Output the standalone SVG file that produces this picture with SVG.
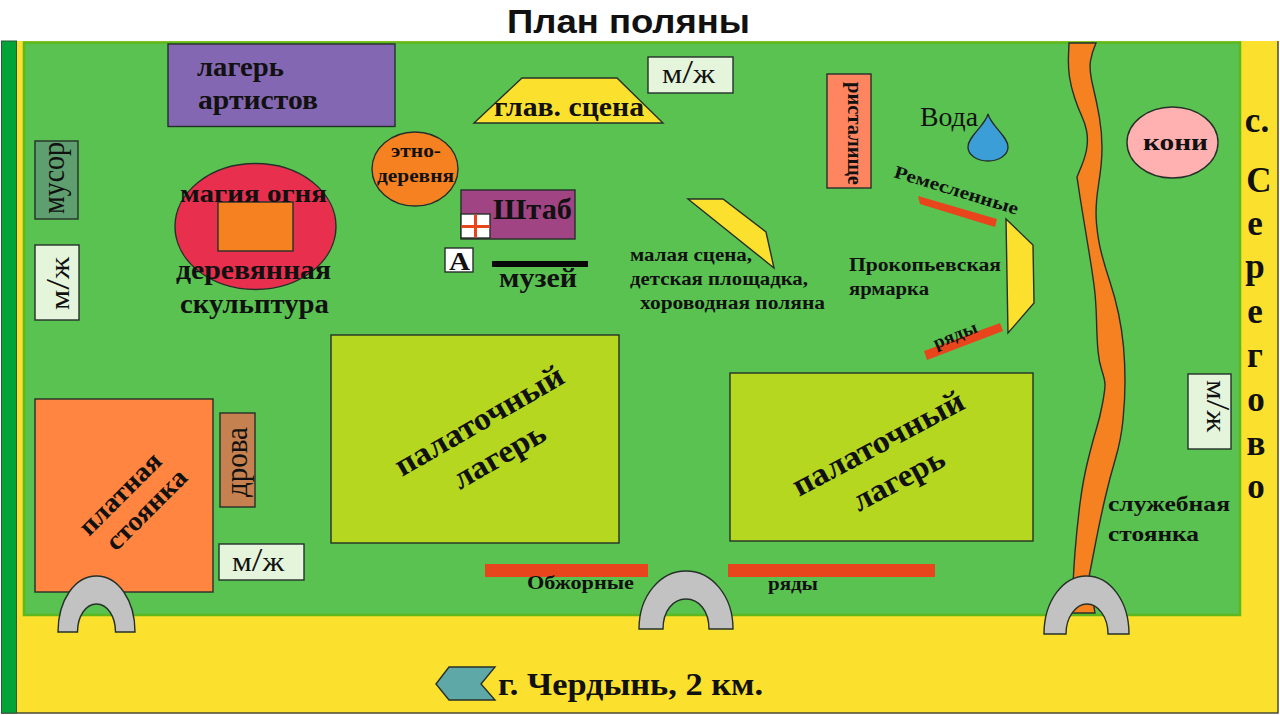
<svg xmlns="http://www.w3.org/2000/svg" width="1280" height="715" viewBox="0 0 1280 715">
<style>
text{font-family:"Liberation Serif","Times New Roman",serif;fill:#111;font-weight:bold}
.n{font-weight:normal}
.s{stroke:#26302a;stroke-width:1.4}
.title{font-family:"Liberation Sans",Arial,sans-serif;font-size:34px;fill:#111}
.lot{fill:#b5d720}
.mj{fill:#e5f5dc}
.bar{fill:#e8451c}
.arch{fill:#c2c2c2}
.yel{fill:#fbe12d}
.sv{font-size:35px;text-anchor:middle}
.sl{font-size:33px}
</style>
<rect width="1280" height="715" fill="#fff"/>
<text class="title" x="507" y="33" textLength="243" lengthAdjust="spacingAndGlyphs">План поляны</text>
<g id="ground">
<rect x="1" y="41" width="1277" height="672" class="yel"/>
<path d="M1278,41 V713 H1" fill="none" stroke="#4a4a3a" stroke-width="1.500"/>
<rect x="1.500" y="41" width="15" height="672" fill="#03a437" stroke="#2c5a3a" stroke-width="1"/>
<rect x="24" y="42.500" width="1216" height="572.500" fill="#5ac251" stroke="#5cb81c" stroke-width="2.500"/>
</g>
<g id="river">
<path class="s" fill="#f68120" d="M1069,43 L1068.500,55 Q1068,67 1069.500,77 Q1071,87 1074.500,97.500 Q1078,108 1081.500,115.500 Q1085,123 1086.500,130.500 Q1088,138 1087,146.500 Q1086,155 1081.500,166 L1077,177 L1080,197 L1083.500,218.500 Q1087,240 1089.500,255 Q1092,270 1094,285 Q1096,300 1096.500,320 Q1097,340 1098,351 Q1099,362 1102,371 Q1105,380 1105,385 Q1105,390 1102.500,403.500 Q1100,417 1096.500,428.500 Q1093,440 1088,460 Q1083,480 1080,503.500 Q1077,527 1075,552 Q1073,577 1072,613 L1095,613 L1089,577 L1094.500,548.500 Q1100,520 1105,498.500 Q1110,477 1115.500,458.500 Q1121,440 1123,420 Q1125,400 1125,381.500 Q1125,363 1123.500,346.500 Q1122,330 1118.500,313.500 Q1115,297 1110,282 Q1105,267 1101.500,253.500 Q1098,240 1096.500,223.500 Q1095,207 1098.500,185 Q1102,163 1102,148 Q1102,133 1099.500,118 Q1097,103 1093,86.500 Q1089,70 1090.500,61 Q1092,52 1096,43 Z"/>
</g>
<g id="lager-artistov">
<rect class="s" x="168" y="44" width="227" height="82.500" fill="#8467b2"/>
<text x="197" y="76" font-size="27" textLength="87" lengthAdjust="spacingAndGlyphs">лагерь</text>
<text x="198" y="109" font-size="27" textLength="120" lengthAdjust="spacingAndGlyphs">артистов</text>
</g>
<g id="musor">
<rect class="s" x="35" y="141" width="43" height="78" fill="#5f9e6e"/>
<text class="n" transform="translate(64,214) rotate(-90)" font-size="31" textLength="72" lengthAdjust="spacingAndGlyphs">мусор</text>
</g>
<g id="mj-left">
<rect class="s mj" x="35" y="245" width="44" height="75"/>
<text class="n" transform="translate(69,310) rotate(-90)" font-size="27" textLength="53" lengthAdjust="spacingAndGlyphs">м<tspan class="sl">/</tspan>ж</text>
</g>
<g id="magia">
<ellipse class="s" cx="255.500" cy="226.500" rx="80.500" ry="63" fill="#e8304e"/>
<rect class="s" x="218" y="202" width="75" height="49" fill="#f68120"/>
<text x="180" y="202" font-size="26" textLength="147" lengthAdjust="spacingAndGlyphs">магия огня</text>
<text x="176" y="279" font-size="27" textLength="155" lengthAdjust="spacingAndGlyphs">деревянная</text>
<text x="180" y="313" font-size="27" textLength="149" lengthAdjust="spacingAndGlyphs">скульптура</text>
</g>
<g id="etno">
<ellipse class="s" cx="415" cy="169" rx="43" ry="37" fill="#f68120"/>
<text x="391" y="157" font-size="18" textLength="50" lengthAdjust="spacingAndGlyphs">этно-</text>
<text x="377" y="182" font-size="18" textLength="77" lengthAdjust="spacingAndGlyphs">деревня</text>
</g>
<g id="glav-scena">
<polygon class="s yel" points="474,123 522,78 617,78 663,123"/>
<text x="494" y="116" font-size="27" textLength="150" lengthAdjust="spacingAndGlyphs">глав. сцена</text>
</g>
<g id="mj-top">
<rect class="s mj" x="648" y="57" width="85" height="36"/>
<text class="n" x="662" y="83" font-size="27" textLength="53" lengthAdjust="spacingAndGlyphs">м<tspan class="sl">/</tspan>ж</text>
</g>
<g id="ristalische">
<rect class="s" x="827" y="74" width="44" height="114" fill="#ff8560"/>
<text transform="translate(848,82) rotate(90)" font-size="22" textLength="103" lengthAdjust="spacingAndGlyphs">ристалище</text>
</g>
<g id="voda">
<text class="n" x="920" y="126" font-size="27" textLength="58" lengthAdjust="spacingAndGlyphs">Вода</text>
<path class="s" fill="#3c9ed6" d="M988,114 C985,126 968,136 968,147 C968,155 977,161 988,161 C999,161 1008,155 1008,147 C1008,136 991,126 988,114 Z"/>
</g>
<g id="koni">
<ellipse class="s" cx="1172.500" cy="142.500" rx="45.500" ry="35.500" fill="#ffb0b0"/>
<text x="1143" y="150" font-size="24" textLength="65" lengthAdjust="spacingAndGlyphs">кони</text>
</g>
<g id="shtab">
<rect class="s" x="461" y="190" width="114" height="49" fill="#a04484"/>
<rect class="s" x="461" y="214" width="29" height="24" fill="#fff"/>
<rect class="bar" x="461.500" y="225" width="28" height="3"/>
<rect class="bar" x="474" y="214.500" width="3" height="23"/>
<text x="493" y="219" font-size="29" textLength="79" lengthAdjust="spacingAndGlyphs">Штаб</text>
</g>
<g id="a-box">
<rect class="s" x="445" y="248" width="28" height="24" fill="#fff"/>
<text x="449" y="270" font-size="25" textLength="21" lengthAdjust="spacingAndGlyphs">А</text>
</g>
<g id="muzey">
<rect x="492" y="261" width="96" height="6" fill="#080808"/>
<text x="499" y="287" font-size="27" textLength="78" lengthAdjust="spacingAndGlyphs">музей</text>
</g>
<g id="malaya-scena">
<polygon class="s yel" points="688,199 723,199 766,232 774,268"/>
<text x="630" y="261" font-size="18" textLength="122" lengthAdjust="spacingAndGlyphs">малая сцена,</text>
<text x="630" y="285" font-size="18" textLength="178" lengthAdjust="spacingAndGlyphs">детская площадка,</text>
<text x="640" y="309" font-size="18" textLength="185" lengthAdjust="spacingAndGlyphs">хороводная поляна</text>
</g>
<g id="yarmarka">
<polygon class="s yel" points="1006,219 1033,245 1034,303 1008,333"/>
<polygon class="bar" points="918,196 997,219 995,227 920,204"/>
<polygon class="bar" points="924,351 1000,323 1003,331 927,360"/>
<text transform="translate(893,177) rotate(17)" font-size="18" textLength="129" lengthAdjust="spacingAndGlyphs">Ремесленные</text>
<text x="849" y="271" font-size="18" textLength="152" lengthAdjust="spacingAndGlyphs">Прокопьевская</text>
<text x="849" y="295" font-size="18" textLength="80" lengthAdjust="spacingAndGlyphs">ярмарка</text>
<text transform="translate(936,349) rotate(-22)" font-size="18" textLength="46" lengthAdjust="spacingAndGlyphs">ряды</text>
</g>
<g id="lager-1">
<rect class="s lot" x="331" y="335" width="288" height="208"/>
<text transform="translate(402,477) rotate(-30)" font-size="32" textLength="190" lengthAdjust="spacingAndGlyphs">палаточный</text>
<text transform="translate(460,490) rotate(-30)" font-size="32" textLength="102" lengthAdjust="spacingAndGlyphs">лагерь</text>
</g>
<g id="lager-2">
<rect class="s lot" x="730" y="373" width="303" height="168"/>
<text transform="translate(799,497) rotate(-28)" font-size="32" textLength="190" lengthAdjust="spacingAndGlyphs">палаточный</text>
<text transform="translate(859,512) rotate(-28)" font-size="32" textLength="100" lengthAdjust="spacingAndGlyphs">лагерь</text>
</g>
<g id="platnaya">
<rect class="s" x="35" y="399" width="178" height="193" fill="#ff8540"/>
<text transform="translate(89,537) rotate(-45)" font-size="27" textLength="105" lengthAdjust="spacingAndGlyphs">платная</text>
<text transform="translate(116,552) rotate(-45)" font-size="27" textLength="103" lengthAdjust="spacingAndGlyphs">стоянка</text>
</g>
<g id="drova">
<rect class="s" x="220" y="413" width="35" height="94" fill="#c5814f"/>
<text class="n" transform="translate(247,497) rotate(-90)" font-size="31" textLength="70" lengthAdjust="spacingAndGlyphs">дрова</text>
</g>
<g id="mj-bottom">
<rect class="s mj" x="219" y="544" width="85" height="36"/>
<text class="n" x="232" y="571" font-size="27" textLength="52" lengthAdjust="spacingAndGlyphs">м<tspan class="sl">/</tspan>ж</text>
</g>
<g id="mj-right">
<rect class="s mj" x="1188" y="374" width="43" height="75"/>
<text class="n" transform="translate(1207,380) rotate(90)" font-size="27" textLength="52" lengthAdjust="spacingAndGlyphs">м<tspan class="sl">/</tspan>ж</text>
</g>
<g id="obzhornye">
<rect class="bar" x="485" y="564" width="163" height="13"/>
<rect class="bar" x="728" y="564" width="207" height="13"/>
<text x="527" y="589" font-size="18" textLength="107" lengthAdjust="spacingAndGlyphs">Обжорные</text>
<text x="768" y="590" font-size="18" textLength="50" lengthAdjust="spacingAndGlyphs">ряды</text>
</g>
<g id="sluzhebnaya">
<text x="1108" y="511" font-size="21" textLength="122" lengthAdjust="spacingAndGlyphs">служебная</text>
<text x="1108" y="541" font-size="21" textLength="91" lengthAdjust="spacingAndGlyphs">стоянка</text>
</g>
<g id="gates">
<path class="s arch" d="M58,632 C58,600 75,576 96.500,576 C118,576 135,600 135,632 H115.500 C115.500,616 107,604 96.500,604 C86,604 77.500,616 77.500,632 Z"/>
<path class="s arch" d="M639,629 C639,596 660,571 686,571 C712,571 733,596 733,629 H709 C709,611 699,599 686,599 C673,599 663,611 663,629 Z"/>
<path class="s arch" d="M1044,634 C1044,601 1063,576 1086.500,576 C1110,576 1129,601 1129,634 H1108 C1108,617 1098,604 1087,604 C1076,604 1066,617 1066,634 Z"/>
</g>
<g id="cherdyn">
<polygon class="s" fill="#5fa8a8" points="436,684 449,667 495,667 481,684 495,700 449,700"/>
<text x="498" y="695" font-size="32" textLength="265" lengthAdjust="spacingAndGlyphs">г. Чердынь, 2 км.</text>
</g>
<g id="seregovo">
<text class="sv" x="1257" y="132" font-size="32">с.</text>
<text class="sv" x="1259" y="192" font-size="35">С</text>
<text class="sv" x="1255" y="235">е</text>
<text class="sv" x="1255" y="278">р</text>
<text class="sv" x="1255" y="323">е</text>
<text class="sv" x="1255" y="367">г</text>
<text class="sv" x="1256" y="411">о</text>
<text class="sv" x="1256" y="455">в</text>
<text class="sv" x="1256" y="498">о</text>
</g>
</svg>
